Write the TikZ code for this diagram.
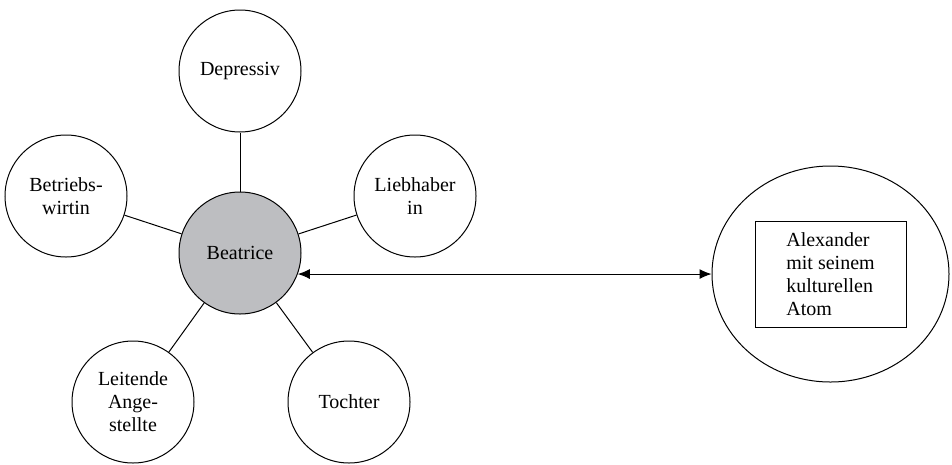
\documentclass[tikz,border=0pt]{standalone}
\usepackage{fontspec}
\setmainfont{Liberation Serif}
\usetikzlibrary{arrows.meta,shapes.geometric}
\definecolor{beagray}{RGB}{189,190,193}
\tikzset{
  bubble/.style={circle,draw,line width=1pt,minimum size=122pt,inner sep=0pt,align=center,font=\fontsize{20}{23}\selectfont},
  link/.style={line width=1pt},
  arr/.style={line width=1pt,{Latex[length=12pt,width=10pt]}-{Latex[length=12pt,width=10pt]}}
}
\begin{document}
\begin{tikzpicture}[x=1pt,y=-1pt]
\useasboundingbox (0,0) rectangle (952,464);
\node[bubble,fill=beagray] (B) at (240,253) {Beatrice};
\node[bubble] (D) at (240,71) {Depressiv};
\node[bubble] (L) at (415,196) {Liebhaber\\in};
\node[bubble] (W) at (66,196) {Betriebs-\\wirtin};
\node[bubble] (A) at (133,402) {Leitende\\Ange-\\stellte};
\node[bubble] (T) at (349,402) {Tochter};
\node[ellipse,draw,line width=1pt,minimum width=237pt,minimum height=216pt,inner sep=0pt] (E) at (830.5,274) {};
\node[rectangle,draw,line width=1pt,minimum width=151pt,minimum height=106pt,align=left,font=\fontsize{20}{23}\selectfont] (R) at (830.5,274) {Alexander\\mit seinem\\kulturellen\\Atom};
\draw[link] (B) -- (D);
\draw[link] (B) -- (L);
\draw[link] (B) -- (W);
\draw[link] (B) -- (A);
\draw[link] (B) -- (T);
\draw[arr] (B.-20) -- (B.-20 -| E.west);
\end{tikzpicture}
\end{document}
